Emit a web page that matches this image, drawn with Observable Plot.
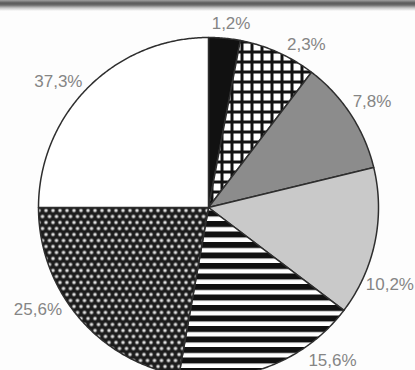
<!DOCTYPE html>
<html><head><meta charset="utf-8">
<script src="https://cdn.jsdelivr.net/npm/d3@7"></script>
<script src="https://cdn.jsdelivr.net/npm/@observablehq/plot@0.6"></script>
<style>body{margin:0;background:#fff}</style>
</head><body><div id="chart"></div>
<script>
// Slice labels as printed in the reference, clockwise from 12 o'clock
const labels = ["1,2%", "2,3%", "7,8%", "10,2%", "15,6%", "25,6%", "37,3%"];
// Angular size of each slice as drawn in the (scanned) reference, in degrees
const sweepDeg = [10.8, 26.5, 39.1, 50.8, 62.8, 80, 90];

// ---- styling / layout (not data) ----
const fills = ["#111", "url(#hatch)", "#8c8c8c", "#c9c9c9", "url(#stripes)", "url(#dots)", "#fff"];
const labelAngle = [7, 31, 57, 113, 141, 239, 310];
const labelRadius = [185, 190, 195, 197, 197, 199, 196];
const R = 170;
const rad = a => a * Math.PI / 180;

const pts = [];
let a0 = 0;
sweepDeg.forEach((s, i) => {
  const a1 = a0 + s;
  pts.push({slice: i, x: 0, y: 0});
  for (let a = a0; a < a1; a += 0.5) pts.push({slice: i, x: R * Math.sin(rad(a)), y: R * Math.cos(rad(a))});
  pts.push({slice: i, x: R * Math.sin(rad(a1)), y: R * Math.cos(rad(a1))});
  pts.push({slice: i, x: 0, y: 0});
  a0 = a1;
});

const lab = labels.map((t, i) => ({
  text: t,
  x: labelRadius[i] * Math.sin(rad(labelAngle[i])),
  y: labelRadius[i] * Math.cos(rad(labelAngle[i]))
}));

const svg = Plot.plot({
  width: 415, height: 370,
  margin: 0,
  x: {domain: [-208, 207], axis: null},
  y: {domain: [-163, 207], axis: null},
  color: {type: "identity"},
  style: {background: "linear-gradient(#a0a0a0 0px, #5a5a5a 3px, #6a6a6a 5px, #c8c8c8 8px, #fdfdfd 11px, #fdfdfd 100%)"},
  marks: [
    Plot.line(pts, {x: "x", y: "y", z: "slice", fill: d => fills[d.slice], stroke: "#2e2e2e", strokeWidth: 1.5, strokeLinejoin: "round", curve: "linear"}),
    Plot.text(lab, {x: "x", y: "y", text: "text", fontSize: 17, fontFamily: "Liberation Sans, Arial, sans-serif", fill: "#858585", textAnchor: "middle", lineAnchor: "middle"})
  ]
});

const defs = d3.select(svg).insert("defs", ":first-child");
const hatch = defs.append("pattern").attr("id", "hatch").attr("patternUnits", "userSpaceOnUse").attr("width", 10).attr("height", 10);
hatch.append("rect").attr("width", 10).attr("height", 10).attr("fill", "#fff");
hatch.append("rect").attr("x", 0).attr("y", 0).attr("width", 3).attr("height", 10).attr("fill", "#111");
hatch.append("rect").attr("x", 0).attr("y", 0).attr("width", 10).attr("height", 3).attr("fill", "#111");

const stripes = defs.append("pattern").attr("id", "stripes").attr("patternUnits", "userSpaceOnUse").attr("width", 10).attr("height", 10.5);
stripes.append("rect").attr("width", 10).attr("height", 10.5).attr("fill", "#fff");
stripes.append("rect").attr("y", 0).attr("width", 10).attr("height", 6).attr("fill", "#111");

const dots = defs.append("pattern").attr("id", "dots").attr("patternUnits", "userSpaceOnUse").attr("width", 7).attr("height", 12);
dots.append("rect").attr("width", 7).attr("height", 12).attr("fill", "#1c1c1c");
[[0, 0], [7, 0], [0, 12], [7, 12], [3.5, 6]].forEach(([cx, cy]) =>
  dots.append("circle").attr("cx", cx).attr("cy", cy).attr("r", 1.8).attr("fill", "#e0e0e0"));

document.getElementById("chart").append(svg);
</script>
</body></html>
